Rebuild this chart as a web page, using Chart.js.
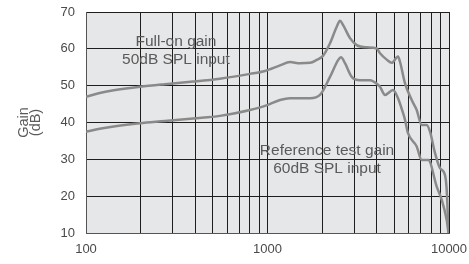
<!DOCTYPE html>
<html>
<head>
<meta charset="utf-8">
<script src="https://cdn.jsdelivr.net/npm/chart.js@4"></script>
<style>
  html, body { margin: 0; padding: 0; background: #fff; }
  #wrap { width: 469px; height: 264px; }
</style>
</head>
<body>
<div id="wrap"><canvas id="chart"></canvas></div>
<script>
// Full-on gain (50dB SPL input)
const fullOnFreq = [100, 119, 145, 198, 272, 389, 547, 801, 969, 1172, 1330, 1510, 1715, 1867, 2022, 2210, 2406, 2508, 2606, 2848, 3100, 3521, 3996, 4167, 4554, 4834, 5236, 5370, 5724, 6231, 6637, 7073, 7537, 7859, 8375, 8923, 9506, 9713, 9937];
const fullOnGain = [47.0, 48.0, 48.8, 49.7, 50.4, 51.1, 51.9, 53.2, 54.0, 55.5, 56.4, 56.1, 56.2, 57.0, 58.1, 61.5, 66.0, 67.6, 66.5, 62.9, 61.0, 60.4, 60.1, 58.8, 57.0, 56.2, 57.9, 56.5, 50.6, 46.1, 43.4, 39.3, 39.3, 37.5, 31.7, 27.6, 25.7, 21.7, 10.0];

// Reference test gain (60dB SPL input)
const refFreq = [100, 119, 145, 198, 272, 389, 547, 801, 969, 1172, 1330, 1715, 1947, 2210, 2455, 2541, 2673, 2911, 3233, 3670, 4078, 4167, 4441, 4915, 5236, 5580, 5724, 5946, 6637, 7073, 7692, 8556, 9118, 9713, 9937];
const refGain = [37.5, 38.3, 39.0, 39.8, 40.4, 41.1, 41.8, 43.4, 44.5, 46.1, 46.6, 46.6, 47.5, 52.4, 57.0, 57.7, 56.1, 52.4, 51.5, 51.5, 50.2, 49.7, 47.5, 48.8, 46.6, 42.6, 40.7, 37.1, 33.5, 29.8, 29.8, 22.6, 19.0, 13.5, 10.0];

const xTicks = [100, 200, 300, 400, 500, 600, 700, 800, 900, 1000, 2000, 3000, 4000, 5000, 6000, 7000, 8000, 9000, 10000];
const xLabels = [100, 1000, 10000];

const notes = [
  { lines: ['Full-on gain', '50dB SPL input'], freq: 313, gain: 61.9 },
  { lines: ['Reference test gain', '60dB SPL input'], freq: 2128, gain: 32.3 }
];

const FONT = '"Liberation Sans", Arial, sans-serif';

const toPoints = (xs, ys) => xs.map((x, i) => ({ x, y: ys[i] }));

const plotBg = {
  id: 'plotBg',
  beforeDraw(chart) {
    const { ctx, chartArea: a } = chart;
    ctx.save();
    ctx.fillStyle = '#e6e7e9';
    ctx.fillRect(a.left, a.top, a.right - a.left, a.bottom - a.top);
    ctx.restore();
  }
};

const noteText = {
  id: 'noteText',
  afterDatasetsDraw(chart) {
    const { ctx, scales: { x, y } } = chart;
    ctx.save();
    ctx.font = '15.5px ' + FONT;
    ctx.fillStyle = '#5a5a5a';
    ctx.textAlign = 'center';
    ctx.textBaseline = 'middle';
    notes.forEach(n => {
      const px = x.getPixelForValue(n.freq);
      const py = y.getPixelForValue(n.gain);
      n.lines.forEach((l, i) => ctx.fillText(l, px, py + i * 18));
    });
    ctx.restore();
  }
};

const lineStyle = {
  borderColor: '#8a8a8a',
  borderWidth: 2.5,
  pointRadius: 0,
  showLine: true,
  fill: false,
  cubicInterpolationMode: 'monotone'
};

new Chart(document.getElementById('chart'), {
  type: 'scatter',
  data: {
    datasets: [
      { label: 'Full-on gain', data: toPoints(fullOnFreq, fullOnGain), ...lineStyle },
      { label: 'Reference test gain', data: toPoints(refFreq, refGain), ...lineStyle }
    ]
  },
  options: {
    responsive: true,
    maintainAspectRatio: false,
    animation: false,
    layout: { padding: { top: 12, right: 20, left: 0, bottom: 0 } },
    plugins: {
      legend: { display: false },
      tooltip: { enabled: false }
    },
    scales: {
      x: {
        type: 'logarithmic',
        min: 100,
        max: 10000,
        afterBuildTicks: scale => { scale.ticks = xTicks.map(v => ({ value: v })); },
        afterFit: scale => { scale.height = 31; scale.paddingLeft = 0; scale.paddingRight = 0; },
        grid: { color: '#1e1e1e', lineWidth: 1, drawTicks: false },
        border: { color: '#555', width: 1 },
        ticks: {
          autoSkip: false,
          maxRotation: 0,
          padding: 9,
          color: '#4a4a4a',
          font: { family: FONT, size: 13 },
          callback: v => xLabels.includes(v) ? String(v) : ''
        }
      },
      y: {
        min: 10,
        max: 70,
        afterFit: scale => { scale.width = 86; scale.paddingTop = 0; scale.paddingBottom = 0; },
        grid: { color: '#1e1e1e', lineWidth: 1, drawTicks: false },
        border: { color: '#555', width: 1 },
        ticks: {
          stepSize: 10,
          padding: 11,
          color: '#4a4a4a',
          font: { family: FONT, size: 13 }
        },
        title: {
          display: true,
          text: ['Gain', '(dB)'],
          color: '#5a5a5a',
          padding: { top: 18.5, bottom: 0 },
          font: { family: FONT, size: 14.5, lineHeight: 0.82 }
        }
      }
    }
  },
  plugins: [plotBg, noteText]
});
</script>
</body>
</html>
